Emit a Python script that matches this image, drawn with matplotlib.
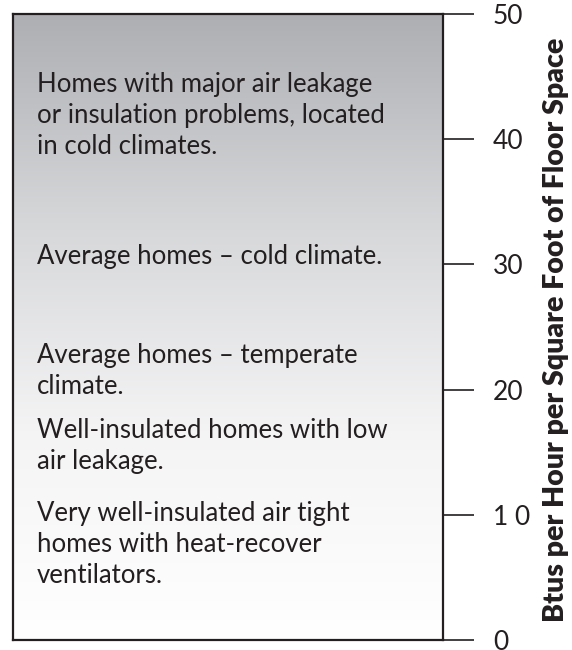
import numpy as np
import matplotlib
matplotlib.use("Agg")
import matplotlib.pyplot as plt
from matplotlib.colors import LinearSegmentedColormap

# Data
tick_values = [0, 10, 20, 30, 40, 50]
tick_labels = ["0", "1 0", "20", "30", "40", "50"]
categories = [
    "Homes with major air leakage\nor insulation problems, located\nin cold climates.",
    "Average homes \u2013 cold climate.",
    "Average homes \u2013 temperate\nclimate.",
    "Well-insulated homes with low\nair leakage.",
    "Very well-insulated air tight\nhomes with heat-recover\nventilators.",
]
category_levels = [41.9, 30.6, 21.5, 15.5, 7.6]
ylabel = "Btus per Hour per Square Foot of Floor Space"

FONT = "Lato"
INK = "#231f20"

fig = plt.figure(figsize=(5.72, 6.5), dpi=100)
ax = fig.add_axes([13/572, 10/650, 430/572, 626/650])

cmap = LinearSegmentedColormap.from_list("g", ["#ffffff", "#f4f4f5", "#d6d7d9", "#aeafb3"])
grad = np.linspace(0, 1, 256).reshape(-1, 1)
ax.imshow(grad, aspect="auto", cmap=cmap, origin="lower",
          extent=[0, 1, 0, 50], zorder=0, interpolation="bilinear")
ax.set_xlim(0, 1)
ax.set_ylim(0, 50)
ax.set_xticks([])

for s in ax.spines.values():
    s.set_color(INK)
    s.set_linewidth(1.6)

ax.yaxis.tick_right()
ax.set_yticks(tick_values)
ax.set_yticklabels(tick_labels, fontfamily=FONT, fontsize=19, color=INK)
ax.tick_params(axis="y", direction="out", length=22, width=1.2, color=INK, pad=14)

ax.text(1.263, 0.495, ylabel, transform=ax.transAxes, fontfamily=FONT,
        fontweight="heavy", fontsize=20.5, color=INK, rotation=90,
        ha="center", va="center")

for txt, lvl in zip(categories, category_levels):
    ax.text(0.056, lvl, txt, fontfamily=FONT, fontsize=18.5, color=INK,
            ha="left", va="center", linespacing=1.3)

fig.savefig("out.png", dpi=100)
